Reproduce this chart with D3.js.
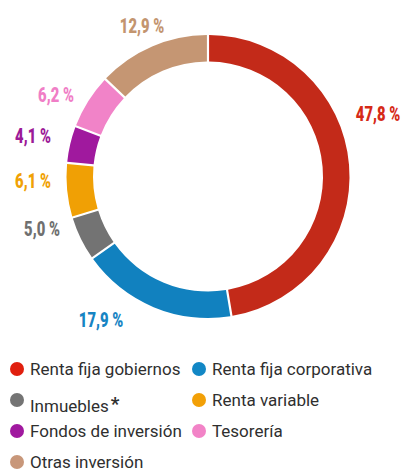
<!DOCTYPE html>
<html>
<head>
<meta charset="utf-8">
<script src="https://cdn.jsdelivr.net/npm/d3@7"></script>
<style>
	html, body { margin: 0; padding: 0; background: #fff; }
	svg { display: block; }
</style>
</head>
<body>
<svg id="chart"></svg>
<script>
// donut: cartera de inversiones

const categories = ["Renta fija gobiernos", "Renta fija corporativa", "Inmuebles", "Renta variable", "Fondos de inversión", "Tesorería", "Otras inversión"];
const values = [47.8, 17.9, 5.0, 6.1, 4.1, 6.2, 12.9];
const valueLabels = ["47,8 %", "17,9 %", "5,0 %", "6,1 %", "4,1 %", "6,2 %", "12,9 %"];

const arcColors = ["#c32a19", "#1181bf", "#737373", "#f0a005", "#a0199e", "#f183c8", "#c59673"];
const labelColors = ["#d62a17", "#1784c3", "#707070", "#f0a104", "#9c1a98", "#f07ec6", "#c3956f"];
const dotColors = ["#e01f0e", "#1287c5", "#747474", "#f2a007", "#a0199f", "#f283c7", "#c8977a"];

// where each value label sits (center x, baseline y)
const labelPos = [[378, 121], [101, 327], [42, 236], [33, 188], [33, 143], [56, 102], [142, 33]];
// legend order: column, row
const legendSlots = [[0, 0], [1, 0], [0, 1], [1, 1], [0, 2], [1, 2], [0, 3]];

const width = 406, height = 470;
const cx = 208, cy = 176.5;
const outerR = 141.5, innerR = 115;

const svg = d3.select("#chart")
	.attr("width", width)
	.attr("height", height)
	.attr("viewBox", `0 0 ${width} ${height}`);

const pie = d3.pie().sort(null).value(d => d).padAngle(0.012);
const arc = d3.arc().innerRadius(innerR).outerRadius(outerR);

const gDonut = svg.append("g").attr("transform", `translate(${cx},${cy})`);

gDonut.selectAll("path")
	.data(pie(values))
	.join("path")
	.attr("d", arc)
	.attr("fill", (d, i) => arcColors[i]);

// condensed bold labels (no narrow font installed, so squeeze horizontally)
svg.append("g").selectAll("text")
	.data(valueLabels)
	.join("text")
	.attr("transform", (d, i) => `translate(${labelPos[i][0]},${labelPos[i][1]}) scale(0.74,1)`)
	.attr("text-anchor", "middle")
	.attr("font-family", "Roboto, 'Liberation Sans', sans-serif")
	.attr("font-weight", 900)
	.attr("font-size", 20)
	.attr("fill", (d, i) => labelColors[i])
	.text(d => d);

// legend
const colX = [17, 199];
const rowY = d3.range(4).map(r => 369 + r * 31);

const legend = svg.append("g")
	.attr("font-family", "Roboto, 'Liberation Sans', sans-serif")
	.attr("font-size", 17)
	.attr("fill", "#2f2f2f");

const items = legend.selectAll("g")
	.data(categories)
	.join("g")
	.attr("transform", (d, i) => `translate(${colX[legendSlots[i][0]]},${rowY[legendSlots[i][1]]})`);

items.append("circle")
	.attr("r", 7)
	.attr("fill", (d, i) => dotColors[i]);

items.append("text")
	.attr("x", 13)
	.attr("y", d => d === "Inmuebles" ? 11.5 : 6)
	.text(d => d);

// asterisk on Inmuebles
const inm = items.filter(d => d === "Inmuebles");
const inmW = inm.select("text").node().getComputedTextLength();
inm.append("text")
	.attr("x", 13 + inmW + 2)
	.attr("y", 10)
	.attr("font-size", 19)
	.attr("font-weight", "bold")
	.text("*");
</script>
</body>
</html>
